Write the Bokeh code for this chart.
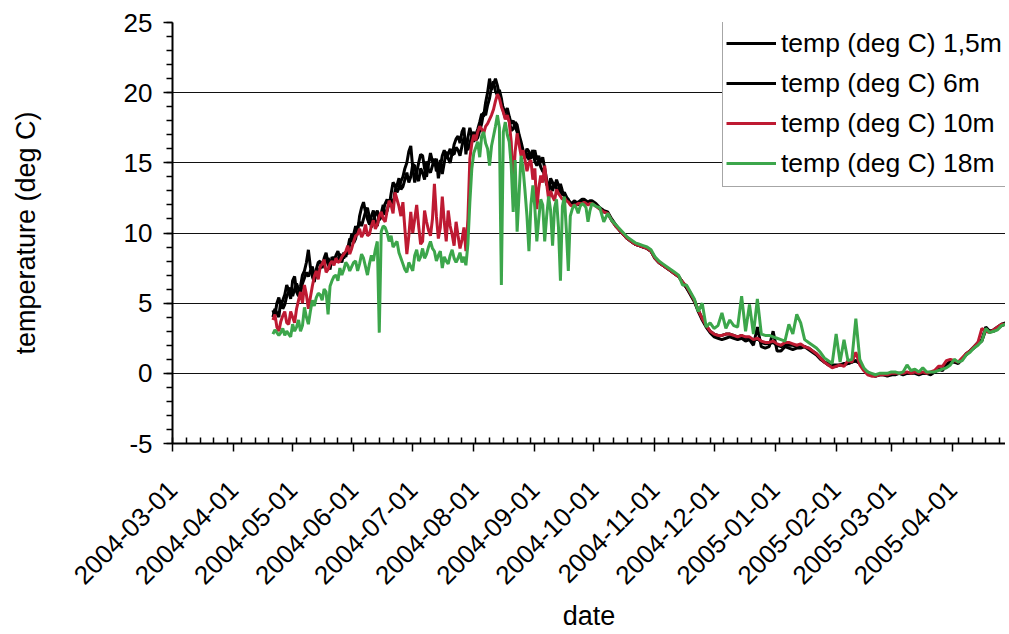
import math
import pandas as pd
from bokeh.plotting import figure
from bokeh.models import (FixedTicker, SingleIntervalTicker, DatetimeTickFormatter,
                          NumeralTickFormatter, Range1d, Legend, LegendItem, ColumnDataSource)
from bokeh.embed import file_html
from bokeh.resources import INLINE

# ---- data ----
# daily readings 2004-04-21 .. 2004-09-30, then every 2 days 2004-10-02 .. 2005-04-28
daily_start, daily_end = "2004-04-21", "2004-09-30"
twoday_start, twoday_count = "2004-10-02", 105

series_names = ["temp (deg C) 1,5m", "temp (deg C) 6m",
                "temp (deg C) 10m", "temp (deg C) 18m"]

t15_daily = [4.5, 4.1, 5.0, 5.4, 4.8, 5.2, 5.6, 6.3, 5.9, 5.3,
             6.6, 6.9, 5.8, 5.5, 6.2, 7.0, 7.3, 7.9, 8.8, 7.6,
             6.9, 6.5, 7.4, 7.9, 8.0, 7.5, 8.2, 8.6, 7.8, 7.4,
             8.3, 8.0, 8.4, 8.7, 8.2, 7.9, 8.6, 8.3, 8.9, 9.6,
             9.4, 9.9, 10.5, 10.1, 11.2, 11.8, 12.2, 11.5, 11.0, 10.6,
             11.2, 11.6, 10.8, 10.5, 11.3, 11.0, 11.6, 12.1, 12.4, 11.9,
             12.8, 13.6, 13.4, 12.9, 13.2, 13.7, 14.0, 14.6, 15.0, 15.8,
             16.2, 14.6, 13.6, 14.3, 15.0, 15.6, 15.5, 14.6, 14.0, 14.9,
             15.7, 15.1, 14.8, 15.3, 13.9, 14.7, 15.5, 15.9, 15.3, 15.6,
             16.0, 15.5, 16.3, 16.7, 16.9, 16.4, 17.2, 17.5, 15.6, 16.8,
             17.5, 16.9, 16.5, 17.0, 17.4, 17.9, 18.5, 18.3, 19.3, 20.0,
             21.0, 20.2, 20.6, 21.0, 20.5, 19.8, 19.3, 18.9, 18.6, 18.9,
             18.3, 17.8, 18.0, 17.6, 17.2, 16.8, 16.0, 15.7, 15.6, 16.0,
             15.8, 15.3, 15.6, 15.9, 15.2, 15.5, 15.0, 15.4, 14.6, 13.8,
             12.9, 13.9, 13.6, 13.2, 13.8, 13.4, 13.0, 12.7, 12.9, 12.6,
             12.3, 12.2, 12.1, 12.3, 12.2, 12.2, 12.3, 12.4, 12.4, 12.3,
             12.2, 12.3, 12.3]
t15_twoday = [12.1, 11.8, 11.6, 11.5, 11.0, 10.6, 10.2, 9.9,
              9.6, 9.4, 9.2, 9.1, 9.0, 8.9, 8.7, 8.2, 7.9, 7.7,
              7.5, 7.3, 7.1, 6.9, 6.5, 6.1, 5.6, 5.1, 4.4, 3.8,
              3.3, 2.9, 2.6, 2.5, 2.4, 2.5, 2.6, 2.5, 2.4, 2.5,
              2.3, 2.4, 2.0, 3.3, 1.9, 1.8, 1.9, 3.0, 1.6, 1.6,
              1.9, 1.8, 1.7, 1.8, 1.8, 1.9, 1.7, 1.5, 1.3, 1.0,
              0.8, 0.7, 0.6, 0.6, 0.6, 0.7, 0.7, 0.8, 0.9, 0.7,
              0.3, 0.1, -0.1, -0.2, -0.1, -0.1, -0.2, -0.1, -0.1, 0.0,
              -0.1, 0.0, 0.0, 0.0, -0.1, 0.0, 0.0, -0.1, 0.1, 0.3,
              0.2, 0.6, 0.9, 0.8, 0.7, 1.0, 1.4, 1.6, 1.9, 2.2,
              2.4, 3.3, 3.0, 3.1, 3.3, 3.5, 3.6]

t6_daily = [4.0, 4.6, 4.3, 4.0, 5.2, 4.6, 4.9, 5.5, 5.8, 6.1,
            5.5, 6.0, 6.4, 6.0, 5.7, 6.4, 6.8, 7.2, 6.9, 7.3,
            7.6, 7.0, 6.8, 7.3, 7.5, 7.9, 7.7, 8.0, 8.2, 7.9,
            7.8, 8.3, 8.0, 8.1, 8.5, 8.3, 8.2, 8.6, 8.5, 9.2,
            9.9, 9.3, 9.6, 10.4, 10.8, 10.5, 11.0, 11.5, 11.8, 11.1,
            10.4, 10.9, 11.3, 11.6, 10.9, 11.4, 12.0, 11.3, 11.6, 12.2,
            12.4, 12.0, 13.0, 13.4, 13.9, 13.1, 13.3, 13.8, 14.3, 13.6,
            14.0, 14.9, 14.8, 14.0, 13.7, 14.6, 14.3, 13.8, 15.1, 14.5,
            14.3, 14.8, 15.3, 14.4, 14.6, 15.2, 14.2, 15.0, 15.8, 15.3,
            15.0, 15.7, 15.6, 16.1, 15.9, 15.5, 16.2, 16.8, 16.5, 15.9,
            16.4, 16.9, 17.2, 16.6, 16.8, 17.3, 17.8, 18.6, 18.4, 19.1,
            19.6, 20.4, 20.8, 20.1, 19.8, 20.2, 19.6, 18.7, 18.2, 18.5,
            18.0, 17.3, 17.4, 17.9, 17.7, 17.0, 16.5, 15.9, 15.3, 15.7,
            15.2, 15.6, 15.9, 15.1, 14.8, 15.2, 14.7, 14.4, 14.2, 13.4,
            13.6, 13.3, 13.0, 13.6, 13.2, 12.9, 13.5, 13.0, 12.6, 12.5,
            12.4, 12.1, 12.0, 12.1, 12.1, 12.0, 12.2, 12.3, 12.3, 12.2,
            12.1, 12.2, 12.2]
t6_twoday = [12.0, 11.7, 11.5, 11.4, 10.9, 10.5, 10.2, 9.9,
             9.6, 9.4, 9.2, 9.1, 9.0, 8.9, 8.7, 8.2, 7.9, 7.7,
             7.5, 7.3, 7.1, 6.9, 6.5, 6.1, 5.7, 5.2, 4.5, 3.9,
             3.4, 3.0, 2.8, 2.7, 2.7, 2.8, 2.8, 2.7, 2.6, 2.7,
             2.5, 2.5, 2.3, 2.5, 2.2, 2.1, 2.1, 2.2, 2.0, 1.9,
             2.1, 2.0, 2.0, 1.9, 1.9, 1.9, 1.8, 1.6, 1.4, 1.1,
             0.8, 0.6, 0.5, 0.5, 0.6, 0.6, 0.7, 0.8, 0.9, 0.7,
             0.3, 0.0, -0.1, -0.2, -0.1, -0.1, -0.1, -0.1, 0.0, 0.0,
             0.0, 0.0, 0.0, 0.1, 0.0, 0.0, 0.0, 0.0, 0.1, 0.3,
             0.3, 0.6, 0.8, 0.8, 0.8, 1.0, 1.3, 1.6, 1.8, 2.1,
             2.3, 3.1, 3.0, 3.0, 3.2, 3.4, 3.5]

t10_daily = [3.8, 4.2, 3.3, 3.0, 3.7, 4.1, 4.4, 3.6, 3.5, 4.4,
             4.0, 3.6, 4.6, 5.2, 5.8, 5.0, 6.3, 5.6, 4.6, 5.4,
             6.2, 6.9, 7.3, 6.7, 7.6, 7.8, 8.1, 7.2, 7.4, 7.8,
             8.0, 7.7, 8.2, 7.9, 8.0, 8.3, 8.5, 8.7, 9.1, 8.5,
             8.9, 9.4, 9.8, 9.9, 10.3, 9.7, 10.0, 10.6, 9.8, 9.9,
             10.5, 10.9, 10.3, 10.6, 11.2, 11.5, 11.0, 10.8, 11.6, 12.3,
             12.0, 11.4, 12.9, 12.4, 11.9, 11.2, 12.2, 10.3, 8.5, 9.8,
             11.5, 10.0, 11.0, 12.0, 10.5, 9.2, 9.4, 11.6, 10.8, 10.2,
             9.8, 11.0, 13.5, 11.2, 9.6, 10.4, 12.6, 10.8, 9.4, 11.6,
             10.5, 9.9, 9.1, 10.8, 9.8, 8.9, 9.5, 10.4, 8.7, 11.0,
             15.3, 16.4, 17.0, 16.6, 17.2, 17.6, 17.4, 17.1, 17.6, 17.8,
             18.1, 18.4, 18.8, 19.4, 19.9, 19.6, 19.0, 18.6, 18.1, 18.4,
             17.9, 16.5, 13.4, 15.8, 17.1, 16.3, 15.5, 15.9, 15.2, 14.4,
             15.0, 15.2, 13.8, 14.6, 11.7, 13.2, 14.1, 13.6, 14.8, 13.5,
             12.4, 13.0, 12.6, 12.3, 13.1, 12.8, 12.6, 12.4, 12.5, 12.3,
             12.2, 12.0, 11.9, 12.0, 12.0, 12.1, 12.1, 12.1, 12.2, 12.1,
             12.0, 12.1, 12.1]
t10_twoday = [11.9, 11.7, 11.5, 11.4, 10.9, 10.5, 10.2, 9.9,
              9.6, 9.4, 9.2, 9.1, 9.0, 8.9, 8.7, 8.2, 7.9, 7.7,
              7.5, 7.3, 7.1, 6.9, 6.5, 6.2, 5.7, 5.2, 4.5, 3.9,
              3.4, 3.0, 2.8, 2.7, 2.7, 2.8, 2.8, 2.7, 2.6, 2.7,
              2.6, 2.6, 2.4, 2.5, 2.3, 2.2, 2.2, 2.3, 2.1, 2.0,
              2.2, 2.2, 2.1, 2.0, 2.1, 1.9, 1.8, 1.6, 1.4, 1.1,
              0.8, 0.6, 0.4, 0.5, 0.6, 0.5, 0.9, 0.8, 1.5, 0.6,
              0.2, -0.1, -0.2, -0.2, -0.1, -0.1, -0.1, 0.0, 0.0, 0.0,
              0.0, 0.1, 0.0, 0.1, 0.0, 0.1, 0.0, 0.1, 0.2, 0.5,
              0.5, 0.9, 1.0, 0.9, 0.8, 1.1, 1.4, 1.6, 1.9, 2.2,
              3.2, 3.0, 2.9, 3.1, 3.3, 3.5, 3.5]

t18_daily = [2.8, 3.1, 2.9, 2.7, 2.9, 3.2, 2.7, 3.0, 2.8, 2.6,
             3.5, 3.0, 3.3, 3.8, 3.0, 3.4, 4.7, 4.0, 3.5, 4.4,
             5.2, 4.8, 5.4, 5.7, 5.6, 5.2, 6.0, 5.8, 4.2, 6.2,
             6.6, 6.9, 7.0, 6.6, 7.5, 7.0, 7.4, 7.9, 7.7, 7.3,
             7.6, 7.9, 8.0, 7.3, 7.8, 8.5, 8.2, 7.6, 7.0, 7.8,
             8.4, 8.0, 8.8, 9.4, 2.9, 10.1, 10.5, 10.4, 10.0, 9.4,
             9.8, 9.0, 9.2, 9.4, 8.6, 8.2, 7.8, 7.4, 7.2, 7.9,
             7.6, 7.3, 8.4, 8.8, 8.0, 8.3, 8.9, 8.2, 8.5, 9.0,
             9.4, 8.9, 8.7, 8.0, 8.4, 8.7, 7.5, 8.3, 8.0, 7.8,
             8.4, 8.8, 8.2, 7.9, 8.2, 8.6, 7.9, 8.3, 7.7, 9.2,
             12.2, 14.6, 15.7, 16.1, 16.5, 15.4, 16.9, 17.2, 16.4, 16.0,
             14.8, 16.2, 16.9, 17.6, 18.4, 17.5, 6.3, 17.2, 17.9, 17.0,
             16.5, 14.8, 11.5, 15.2, 10.1, 12.8, 15.5, 14.6, 13.0, 11.2,
             8.7, 12.0, 13.4, 11.8, 9.4, 11.0, 12.4, 12.0, 9.4, 11.2,
             12.6, 11.6, 9.1, 11.8, 12.4, 10.4, 6.6, 11.9, 12.6, 10.2,
             7.3, 11.2, 11.7, 12.0, 11.8, 11.4, 11.9, 12.1, 12.0, 11.8,
             10.8, 11.6, 12.1]
t18_twoday = [11.9, 11.8, 10.8, 11.4, 10.9, 10.6, 10.3, 10.0,
              9.7, 9.5, 9.3, 9.2, 9.1, 9.0, 8.8, 8.3, 8.0, 7.8,
              7.6, 7.4, 7.2, 7.0, 6.3, 6.3, 5.8, 5.3, 4.4, 5.0,
              3.3, 3.6, 3.2, 3.4, 4.3, 3.2, 3.8, 3.4, 3.3, 5.5,
              3.0, 4.9, 2.8, 5.3, 2.8, 2.7, 2.7, 2.6, 2.5, 2.4,
              2.3, 3.5, 2.8, 4.2, 3.6, 2.4, 2.2, 2.0, 1.8, 1.5,
              1.1, 0.9, 0.7, 2.8, 0.8, 2.4, 0.9, 1.0, 3.9, 1.0,
              0.4, 0.1, 0.0, -0.1, 0.0, 0.0, 0.0, 0.1, 0.1, 0.0,
              0.1, 0.6, 0.2, 0.3, 0.1, 0.4, 0.1, 0.1, 0.1, 0.2,
              0.3, 0.4, 0.6, 1.0, 0.8, 0.9, 1.3, 1.5, 1.8, 2.0,
              2.3, 3.2, 2.9, 3.0, 3.1, 3.4, 3.5]

month_ticks = ["2004-03-01", "2004-04-01", "2004-05-01", "2004-06-01", "2004-07-01",
               "2004-08-01", "2004-09-01", "2004-10-01", "2004-11-01", "2004-12-01",
               "2005-01-01", "2005-02-01", "2005-03-01", "2005-04-01"]
x_start = "2004-03-01"
x_end = "2005-04-28"

colors = ["#000000", "#000000", "#BE1A32", "#3CA64B"]

# ---- figure ----
FONT = "Liberation Sans"
dates = list(pd.date_range(daily_start, daily_end, freq="D")) + \
        list(pd.date_range(twoday_start, periods=twoday_count, freq="2D"))
src = ColumnDataSource(dict(
    date=dates,
    a=t15_daily + t15_twoday,
    b=t6_daily + t6_twoday,
    c=t10_daily + t10_twoday,
    d=t18_daily + t18_twoday))

def ms(s):
    return (pd.Timestamp(s) - pd.Timestamp("1970-01-01")).total_seconds() * 1000.0

p = figure(width=1005, height=634, x_axis_type="datetime",
           output_backend="svg", toolbar_location=None,
           x_range=Range1d(pd.Timestamp(x_start), pd.Timestamp(x_end)),
           y_range=Range1d(-5, 25),
           min_border_left=172, min_border_right=0,
           min_border_top=22, min_border_bottom=187)
p.outline_line_color = None
p.background_fill_color = "white"
p.border_fill_color = "white"

renderers = []
for col, c in zip(["a", "b", "c", "d"], colors):
    r = p.line("date", col, source=src, line_color=c, line_width=3)
    renderers.append(r)

# y axis
p.yaxis.ticker = SingleIntervalTicker(interval=5, num_minor_ticks=5)
p.yaxis.formatter = NumeralTickFormatter(format="0")
p.yaxis.axis_line_width = 2
p.yaxis.major_tick_out = 9
p.yaxis.major_tick_in = 0
p.yaxis.minor_tick_out = 6
p.yaxis.minor_tick_in = 0
p.yaxis.major_tick_line_width = 1.5
p.yaxis.minor_tick_line_width = 1.5
p.yaxis.major_label_standoff = 11
p.yaxis.axis_label = "temperature (deg C)"
p.yaxis.axis_label_standoff = 80

# x axis
first = pd.Timestamp(x_start)
last = pd.Timestamp(x_end)
weeks = []
d = first
while d <= last:
    weeks.append(ms(d))
    d = d + pd.Timedelta(days=7)
p.xaxis.ticker = FixedTicker(ticks=[ms(s) for s in month_ticks], minor_ticks=weeks)
fmt = "%Y-%m-%d"
p.xaxis.formatter = DatetimeTickFormatter(
    microseconds=fmt, milliseconds=fmt, seconds=fmt, minsec=fmt, minutes=fmt,
    hourmin=fmt, hours=fmt, days=fmt, months=fmt, years=fmt,
    strip_leading_zeros=False)
p.xaxis.major_label_orientation = math.pi / 4
p.xaxis.axis_line_width = 2
p.xaxis.major_tick_out = 8
p.xaxis.major_tick_in = 0
p.xaxis.minor_tick_out = 0
p.xaxis.minor_tick_in = 6
p.xaxis.major_tick_line_width = 1.5
p.xaxis.minor_tick_line_width = 1.5
p.xaxis.major_label_standoff = 34
p.xaxis.axis_label = "date"
p.xaxis.axis_label_standoff = 6

for ax in (p.xaxis, p.yaxis):
    ax.major_label_text_font = FONT
    ax.major_label_text_font_size = "26px"
    ax.major_label_text_color = "black"
    ax.axis_label_text_font = FONT
    ax.axis_label_text_font_size = "27px"
    ax.axis_label_text_font_style = "normal"
    ax.axis_label_text_color = "black"
    ax.axis_line_color = "black"
    ax.major_tick_line_color = "black"
    ax.minor_tick_line_color = "black"

p.xgrid.grid_line_color = None
p.ygrid.grid_line_color = "#111111"
p.ygrid.grid_line_width = 1

legend_h = 166
legend = Legend(
    items=[LegendItem(label=nm, renderers=[r]) for nm, r in zip(series_names, renderers)],
    location=(550, 425 - legend_h - 3),
    label_text_font=FONT, label_text_font_size="26.5px", label_text_color="black",
    glyph_width=50, glyph_height=40, label_height=40, label_standoff=5,
    spacing=0, padding=3, margin=0,
    border_line_color="#4d4d4d", border_line_width=1.5,
    background_fill_color="white", background_fill_alpha=1.0)
p.add_layout(legend)

open("out.html", "w").write(file_html(p, INLINE))
